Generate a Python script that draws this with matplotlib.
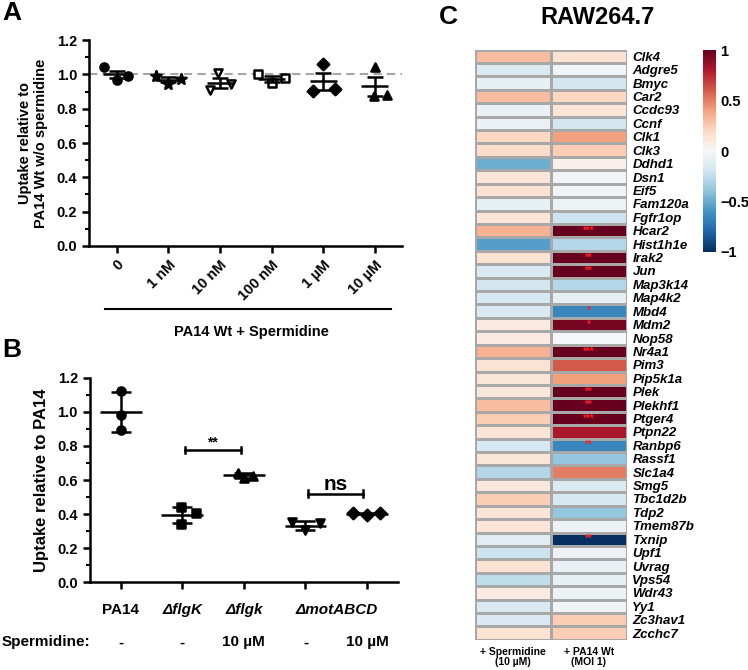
import matplotlib.pyplot as plt
import numpy as np
from matplotlib.ticker import MultipleLocator, FormatStrFormatter

plt.rcParams['font.family'] = ['Liberation Sans', 'DejaVu Sans']
plt.rcParams['font.weight'] = 'bold'
plt.rcParams['axes.labelweight'] = 'bold'
plt.rcParams['axes.titleweight'] = 'bold'
plt.rcParams['axes.linewidth'] = 1.8

# ---- panel A: uptake vs spermidine concentration ----
conc_labels = ['0', '1 nM', '10 nM', '100 nM', '1 µM', '10 µM']
conc_points = [[1.044, 0.967, 0.990],
               [0.990, 0.945, 0.975],
               [1.009, 0.909, 0.944],
               [1.002, 0.948, 0.977],
               [1.064, 0.905, 0.913],
               [1.044, 0.877, 0.881]]
conc_mean = [1.00, 0.97, 0.95, 0.975, 0.96, 0.93]
conc_err = [0.022, 0.015, 0.03, 0.016, 0.05, 0.055]
conc_markers = ['o', '*', 'v', 's', 'D', '^']
conc_open = [False, False, True, True, False, False]
conc_jitter = [[-0.25, 0.0, 0.22], [-0.25, 0.0, 0.25], [-0.04, -0.19, 0.22],
               [-0.27, 0.0, 0.25], [0.0, -0.19, 0.23], [0.0, -0.01, 0.24]]

# ---- panel B: mutants ----
strain_labels = ['PA14', 'ΔflgK', 'Δflgk', 'ΔmotABCD']
strain_label_pos = [0, 1, 2, 3.5]
strain_italic = [False, True, True, True]
spermidine_row = ['-', '-', '10 µM', '-', '10 µM']
strain_points = [[1.124, 0.982, 0.894],
                 [0.443, 0.405, 0.341],
                 [0.640, 0.625, 0.610],
                 [0.355, 0.306, 0.347],
                 [0.404, 0.394, 0.404]]
strain_mean = [1.00, 0.395, 0.627, 0.332, 0.403]
strain_err = [0.115, 0.045, 0.016, 0.026, 0.004]
strain_markers = ['o', 's', '^', 'v', 'D']
strain_jitter = [[0.0, 0.0, 0.0], [-0.02, 0.22, -0.02], [-0.1, 0.15, 0.0],
                 [-0.22, 0.0, 0.24], [-0.23, 0.0, 0.21]]

# ---- panel C: heatmap ----
genes = ['Clk4', 'Adgre5', 'Bmyc', 'Car2', 'Ccdc93', 'Ccnf', 'Clk1', 'Clk3', 'Ddhd1',
         'Dsn1', 'Eif5', 'Fam120a', 'Fgfr1op', 'Hcar2', 'Hist1h1e', 'Irak2', 'Jun',
         'Map3k14', 'Map4k2', 'Mbd4', 'Mdm2', 'Nop58', 'Nr4a1', 'Pim3', 'Pip5k1a',
         'Plek', 'Plekhf1', 'Ptger4', 'Ptpn22', 'Ranbp6', 'Rassf1', 'Slc1a4', 'Smg5',
         'Tbc1d2b', 'Tdp2', 'Tmem87b', 'Txnip', 'Upf1', 'Uvrag', 'Vps54', 'Wdr43',
         'Yy1', 'Zc3hav1', 'Zcchc7']
spermidine_fc = [0.30, -0.15, -0.10, 0.30, -0.08, -0.08, 0.20, 0.18, -0.50,
                 0.12, 0.15, -0.10, 0.12, 0.35, -0.55, 0.15, -0.15,
                 -0.20, -0.18, -0.15, 0.08, 0.08, 0.35, 0.15, 0.12,
                 0.10, 0.30, 0.25, 0.12, -0.18, 0.12, -0.30, 0.10,
                 0.25, 0.12, 0.12, -0.12, -0.22, 0.15, -0.25, 0.08,
                 -0.15, -0.15, 0.15]
pa14_fc = [0.15, -0.03, -0.20, 0.20, 0.12, -0.20, 0.40, 0.25, 0.05,
           -0.03, -0.03, -0.06, -0.22, 1.00, -0.30, 1.00, 1.00,
           -0.30, -0.10, -0.65, 0.95, -0.02, 1.00, 0.60, 0.40,
           1.00, 1.00, 1.00, 0.80, -0.65, -0.40, 0.50, -0.15,
           -0.18, -0.40, -0.05, -1.00, -0.05, -0.08, -0.10, -0.05,
           -0.03, 0.25, 0.25]
pa14_sig = {'Hcar2': '***', 'Irak2': '**', 'Jun': '**', 'Mbd4': '*', 'Mdm2': '*',
            'Nr4a1': '***', 'Plek': '**', 'Plekhf1': '**', 'Ptger4': '***',
            'Ranbp6': '**', 'Txnip': '**'}
conditions = ['+ Spermidine\n(10 µM)', '+ PA14 Wt\n(MOI 1)']

fig = plt.figure(figsize=(7.48, 6.70), dpi=100)


def style_axis(ax):
    ax.spines['top'].set_visible(False)
    ax.spines['right'].set_visible(False)
    ax.set_ylim(0, 1.2)
    ax.yaxis.set_major_locator(MultipleLocator(0.2))
    ax.yaxis.set_minor_locator(MultipleLocator(0.1))
    ax.yaxis.set_major_formatter(FormatStrFormatter('%.1f'))
    ax.tick_params(axis='both', which='major', length=5, width=1.8, labelsize=10.5)
    ax.tick_params(axis='y', which='minor', length=3, width=1.5)


def draw_group(ax, x, pts, jit, mean, err, marker, open_marker, half, cap, ms):
    fc = 'white' if open_marker else 'black'
    ax.scatter(x + np.array(jit), pts, marker=marker, s=ms, facecolor=fc,
               edgecolor='black', linewidth=1.8, zorder=3)
    ax.hlines(mean, x - half, x + half, color='black', lw=1.8, zorder=4)
    ax.errorbar(x, mean, yerr=err, fmt='none', ecolor='black', elinewidth=1.8,
                capsize=cap, capthick=1.8, zorder=4)


# ---------------- A ----------------
axA = fig.add_axes([0.119, 0.633, 0.418, 0.307])
style_axis(axA)
axA.axhline(1.005, color='#a6a6a6', ls='--', lw=1.5, dashes=(4, 2.5), zorder=1)
for i in range(len(conc_labels)):
    ms = 60 if conc_markers[i] == '*' else 34
    draw_group(axA, i, conc_points[i], conc_jitter[i], conc_mean[i], conc_err[i],
               conc_markers[i], conc_open[i], 0.26, 6, ms)
axA.set_xlim(-0.54, 5.52)
axA.set_xticks(range(len(conc_labels)))
axA.set_xticklabels(conc_labels, rotation=45, ha='right', rotation_mode='anchor')
axA.set_ylabel('Uptake relative to\nPA14 Wt w/o spermidine', fontsize=10.5, labelpad=6)
axA.plot([0.051, 0.965], [-0.306, -0.306], color='black', lw=1.5,
         transform=axA.transAxes, clip_on=False)
axA.text(0.52, -0.417, 'PA14 Wt + Spermidine', transform=axA.transAxes,
         ha='center', va='center', fontsize=10.5)

# ---------------- B ----------------
axB = fig.add_axes([0.120, 0.131, 0.412, 0.305])
style_axis(axB)
for i in range(len(strain_points)):
    draw_group(axB, i, strain_points[i], strain_jitter[i], strain_mean[i], strain_err[i],
               strain_markers[i], False, 0.34, 7.5, 34)
axB.set_xlim(-0.5, 4.5)
axB.set_xticks(range(5))
axB.set_xticklabels([])
axB.set_ylabel('Uptake relative to PA14', fontsize=12, labelpad=6)
xt = axB.get_xaxis_transform()
for lab, pos, it in zip(strain_labels, strain_label_pos, strain_italic):
    axB.text(pos, -0.137, lab, transform=xt, ha='center', va='center', fontsize=11,
             fontstyle='italic' if it else 'normal')
axB.text(-0.5, -0.294, 'Spermidine:', transform=xt, ha='right', va='center', fontsize=11)
for i, lab in enumerate(spermidine_row):
    axB.text(i, -0.294, lab, transform=xt, ha='center', va='center', fontsize=11)

# significance brackets
for (x0, x1, y, label, fs, dy) in [(1.04, 1.95, 0.776, '**', 10, 0.045),
                                   (3.04, 3.93, 0.52, 'ns', 15, 0.055)]:
    axB.plot([x0, x1], [y, y], color='black', lw=1.8)
    axB.plot([x0, x0], [y - 0.02, y + 0.02], color='black', lw=1.8)
    axB.plot([x1, x1], [y - 0.02, y + 0.02], color='black', lw=1.8)
    axB.text((x0 + x1) / 2, y + dy, label, ha='center', va='center', fontsize=fs)

# ---------------- C ----------------
axC = fig.add_axes([0.635, 0.045, 0.203, 0.881])
values = np.column_stack([spermidine_fc, pa14_fc])
cmap = plt.get_cmap('RdBu_r', 100)
mesh = axC.pcolormesh(values, cmap=cmap, vmin=-1, vmax=1, edgecolors='#a8a8a8', linewidth=1)
axC.set_xlim(0, 2)
axC.set_ylim(len(genes), 0)
for s in axC.spines.values():
    s.set_visible(False)
axC.set_xticks([])
axC.yaxis.tick_right()
axC.set_yticks(np.arange(len(genes)) + 0.5)
axC.set_yticklabels(genes, fontstyle='italic', fontsize=9.5)
axC.tick_params(axis='y', length=0, pad=4)
for g, sig in pa14_sig.items():
    r = genes.index(g)
    axC.text(1.5, r + 0.5, sig, color='#ff2020', ha='center', va='center', fontsize=7)
for j, lab in enumerate(conditions):
    axC.text(j + 0.5, len(genes) + 0.5, lab, ha='center', va='top', fontsize=7.5,
             linespacing=1.1)

cax = fig.add_axes([0.940, 0.624, 0.0174, 0.301])
cbar = fig.colorbar(mesh, cax=cax, ticks=[-1, -0.5, 0, 0.5, 1])
cbar.outline.set_visible(False)
cbar.ax.set_yticklabels(['\u22121', '\u22120.5', '0', '0.5', '1'])
cax.tick_params(length=0, labelsize=10.5, pad=3)

# titles and panel letters
fig.text(598 / 748, 1 - 18 / 670, 'RAW264.7', fontsize=17, ha='center', va='center')
fig.text(12 / 748, 1 - 13 / 670, 'A', fontsize=19, ha='center', va='center')
fig.text(12 / 748, 1 - 350 / 670, 'B', fontsize=19, ha='center', va='center')
fig.text(448 / 748, 1 - 17 / 670, 'C', fontsize=19, ha='center', va='center')

fig.savefig('out.png', dpi=100)
